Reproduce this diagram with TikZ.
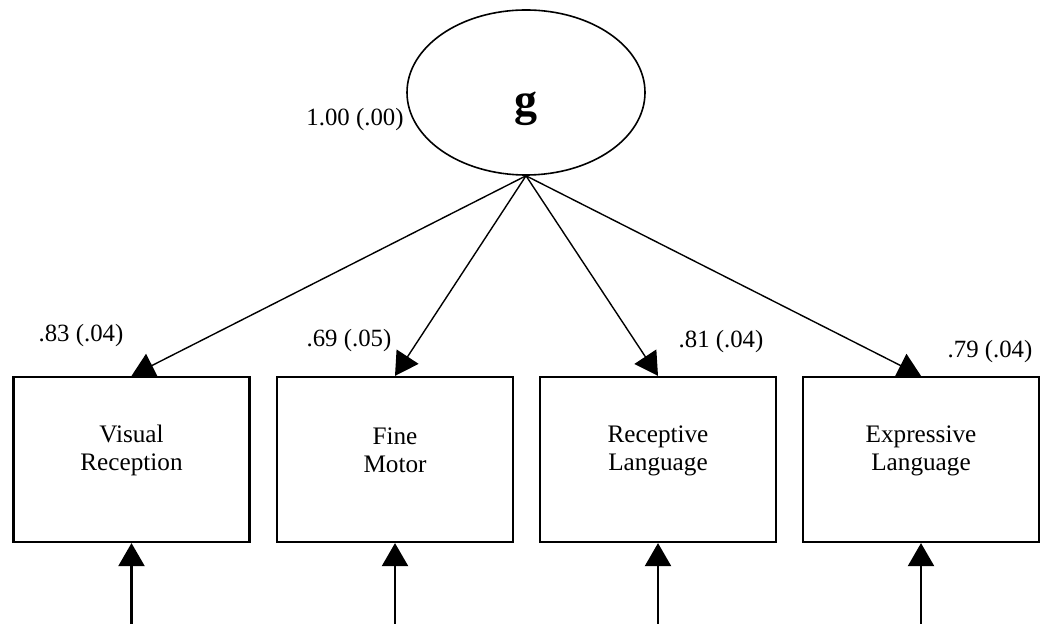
\documentclass[tikz,border=0pt]{standalone}
\usepackage{fontspec}
\setmainfont{Liberation Serif}
\usetikzlibrary{shapes.geometric,arrows.meta}

\begin{document}
\begin{tikzpicture}[x=0.5pt,y=-0.5pt]
			\tikzstyle{every node}+=[inner sep=0pt]
			\tikzstyle{latent}=[draw=black, line width=0.8pt, ellipse, minimum width=119pt, minimum height=82.5pt]
			\tikzstyle{obsbox}=[draw=black, line width=1.1pt, rectangle, minimum width=118pt, minimum height=82.5pt]
			\tikzstyle{boxtext}=[align=center, font=\fontsize{12.6}{14}\selectfont, yshift=4.5pt]
			\tikzstyle{est}=[font=\fontsize{12.4}{14}\selectfont]
			\tikzstyle{load}=[draw=black, line width=0.7pt, -{Triangle[length=11.5pt,width=13pt]}]
			\tikzstyle{resid}=[draw=black, line width=1.1pt, -{Triangle[length=11.5pt,width=13pt]}]
			\useasboundingbox (0,0) rectangle (1048,624);
			% factor
			\node [latent, label={[font=\bfseries\fontsize{23}{26}\selectfont, yshift=-8pt]center:g}] (g) at (526,92.5) {};
			\node [est] (gvar) at (355,120) {1.00 (.00)};
			% indicators
			\node [obsbox, label={[boxtext]center:Visual\\Reception}] (vr) at (131.5,459.5) {};
			\node [obsbox, label={[boxtext]center:Fine\\Motor}] (fm) at (395,459.5) {};
			\node [obsbox, label={[boxtext]center:Receptive\\Language}] (rl) at (658,459.5) {};
			\node [obsbox, label={[boxtext]center:Expressive\\Language}] (el) at (921,459.5) {};
			% loadings
			\node [est] (vrl) at (81,336) {.83 (.04)};
			\node [est] (fml) at (349,341) {.69 (.05)};
			\node [est] (rll) at (721,342) {.81 (.04)};
			\node [est] (ell) at (990,352) {.79 (.04)};
			\draw [load] (g.south) -- (vr.north);
			\draw [load] (g.south) -- (fm.north);
			\draw [load] (g.south) -- (rl.north);
			\draw [load] (g.south) -- (el.north);
			% errors
			\coordinate (vre) at (131.5,624);
			\coordinate (fme) at (395,624);
			\coordinate (rle) at (658,624);
			\coordinate (ele) at (921,624);
			\draw [resid] (vre) -- (vr.south);
			\draw [resid] (fme) -- (fm.south);
			\draw [resid] (rle) -- (rl.south);
			\draw [resid] (ele) -- (el.south);
\end{tikzpicture}
\end{document}
